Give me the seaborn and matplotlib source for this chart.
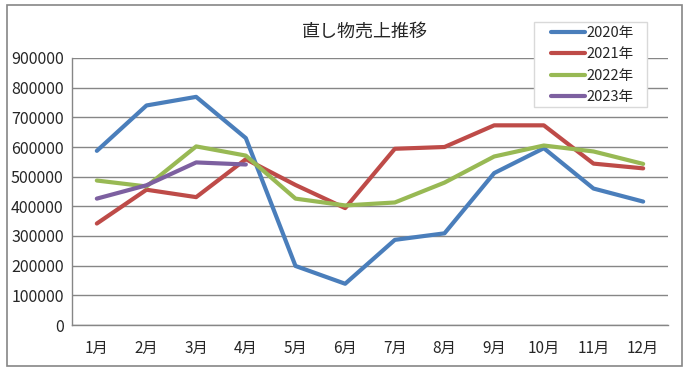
#!/usr/bin/env python3
import pandas as pd
import seaborn as sns
from matplotlib import pyplot as plt
from matplotlib.patches import Rectangle
from matplotlib.ticker import MultipleLocator, FixedLocator

months = ["1月", "2月", "3月", "4月", "5月", "6月", "7月", "8月", "9月", "10月", "11月", "12月"]
years = ["2020年", "2021年", "2022年", "2023年"]
sales_2020 = [587000, 740000, 769000, 630000, 199000, 139000, 287000, 309000, 512000, 596000, 460000, 416000]
sales_2021 = [342000, 456000, 431000, 559000, 472000, 394000, 594000, 600000, 673000, 673000, 544000, 528000]
sales_2022 = [487000, 467000, 602000, 571000, 426000, 403000, 413000, 480000, 568000, 605000, 585000, 543000]
sales_2023 = [426000, 471000, 548000, 541000]
colors = ["#4A7EBB", "#BE4B48", "#98B954", "#7D60A0"]


def main():
    sns.set_style("white")
    plt.rcParams["font.family"] = ["Noto Sans CJK JP", "DejaVu Sans"]

    rows = []
    for year, values in zip(years, [sales_2020, sales_2021, sales_2022, sales_2023]):
        for month, v in zip(months, values):
            rows.append({"Month": month, "Sales": v, "Year": year})
    df = pd.DataFrame(rows)
    df["Month"] = pd.Categorical(df["Month"], categories=months, ordered=True)

    fig = plt.figure(figsize=(6.89, 3.74), dpi=100)
    ax = fig.add_axes([72 / 689, 1 - 325 / 374, (668 - 72) / 689, (325 - 58) / 374])

    sns.lineplot(df, x="Month", y="Sales", hue="Year", hue_order=years, palette=colors,
                 linewidth=3, ax=ax, sort=False)

    ax.set_xlim(-0.5, 11.5)
    ax.set_ylim(0, 900000)
    ax.yaxis.set_major_locator(MultipleLocator(100000))
    ax.set_yticklabels([str(int(t)) for t in ax.get_yticks()], fontsize=11.5)
    ax.set_xticks(range(12))
    ax.set_xticklabels(months, fontsize=11)
    ax.xaxis.set_minor_locator(FixedLocator([i - 0.5 for i in range(13)]))
    ax.tick_params(axis="x", which="major", length=0, pad=11)
    ax.tick_params(axis="x", which="minor", length=4, color="#868686", direction="out")
    ax.tick_params(axis="y", which="major", length=4, color="#868686", direction="out", pad=2)
    ax.set_xlabel("")
    ax.set_ylabel("")
    ax.grid(axis="y", color="#868686", linewidth=1)
    ax.set_axisbelow(True)
    for side in ["top", "right"]:
        ax.spines[side].set_visible(False)
    for side in ["left", "bottom"]:
        ax.spines[side].set_color("#868686")
        ax.spines[side].set_linewidth(1)

    # legend without frame, box drawn separately so it can have wider side padding
    ax.legend(loc="upper left", bbox_to_anchor=(549 / 689, 1 - 24 / 374),
              bbox_transform=fig.transFigure, frameon=False,
              fontsize=10.5, handlelength=2.3, handletextpad=0.15,
              labelspacing=0.5, borderpad=0.15, borderaxespad=0)
    ax.add_patch(Rectangle((534 / 689, 1 - 107 / 374), (647 - 534) / 689, (107 - 22) / 374,
                           transform=fig.transFigure, facecolor="white", clip_on=False,
                           edgecolor="#d9d9d9", linewidth=1, zorder=4))

    fig.text(365 / 689, 1 - 32 / 374, "直し物売上推移", ha="center", va="center", fontsize=13)
    fig.patches.append(Rectangle((7 / 689, 1 - 366 / 374), (682 - 7) / 689, (366 - 5) / 374,
                                 transform=fig.transFigure, fill=False,
                                 edgecolor="#868686", linewidth=1.2))

    fig.savefig("out.png", dpi=100)
    plt.close()


if __name__ == '__main__':
    main()
